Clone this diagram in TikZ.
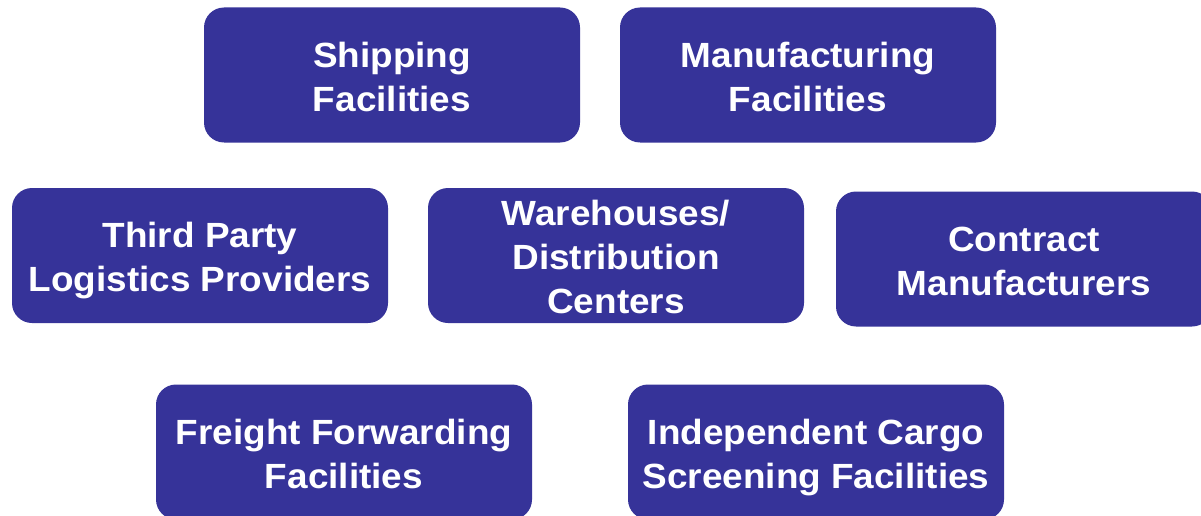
\documentclass[tikz,border=0pt]{standalone}
\usepackage{fontspec}
\setmainfont{Liberation Sans}[FakeStretch=1.055]
\definecolor{boxblue}{HTML}{363399}
\begin{document}
\begin{tikzpicture}[x=1pt,y=-1pt,
  facility/.style={draw=none, fill=boxblue, rounded corners=20pt,
    minimum width=376pt, minimum height=135pt, inner sep=0pt},
  facilitytext/.style={text=white, align=center, inner sep=0pt, yshift=-5.5pt,
    font=\fontsize{35}{44}\selectfont\bfseries}]
\useasboundingbox (0,0) rectangle (1201,516);
\clip (0,0) rectangle (1201,516);
\node[facility] (ship) at (392,75) {};
\node[facility] (manu) at (808,75) {};
\node[facility] (tpl) at (200,255.5) {};
\node[facility] (ware) at (616,255.5) {};
\node[facility] (cont) at (1024,259) {};
\node[facility] (frei) at (344,452) {};
\node[facility] (indep) at (816,452) {};
\node[facilitytext] (ship-t) at (ship.center) {\strut Shipping\\\strut Facilities};
\node[facilitytext] (manu-t) at (manu.center) {\strut Manufacturing\\\strut Facilities};
\node[facilitytext] (tpl-t) at (tpl.center) {\strut Third Party\\\strut Logistics Providers};
\node[facilitytext] (ware-t) at (ware.center) {\strut Warehouses/\\\strut Distribution\\\strut Centers};
\node[facilitytext] (cont-t) at (cont.center) {\strut Contract\\\strut Manufacturers};
\node[facilitytext] (frei-t) at (frei.center) {\strut Freight Forwarding\\\strut Facilities};
\node[facilitytext] (indep-t) at (indep.center) {\strut Independent Cargo\\\strut Screening Facilities};
\end{tikzpicture}
\end{document}
